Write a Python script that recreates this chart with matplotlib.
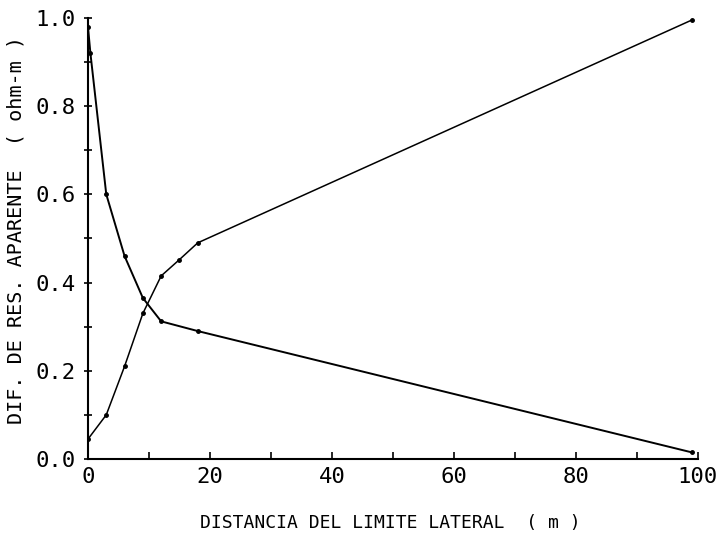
import matplotlib
matplotlib.use("Agg")
import matplotlib.pyplot as plt
from matplotlib.ticker import MultipleLocator

# resistivity difference vs distance to the lateral limit
x_down = [0, 0.4, 3, 6, 9, 12, 18, 99]
y_down = [0.98, 0.92, 0.60, 0.46, 0.365, 0.312, 0.29, 0.015]

x_up = [0, 3, 6, 9, 12, 15, 18, 99]
y_up = [0.045, 0.10, 0.21, 0.33, 0.415, 0.452, 0.49, 0.995]

xticks = [0, 20, 40, 60, 80, 100]
yticks = [0.0, 0.2, 0.4, 0.6, 0.8, 1.0]

plt.rcParams['font.family'] = ['DejaVu Sans Mono']

fig = plt.figure(figsize=(7.21, 5.40), dpi=100)
ax = fig.add_axes([0.122, 0.15, 0.846, 0.817])

ax.plot(x_down, y_down, color='black', lw=1.4, marker='o', ms=2.5)
ax.plot(x_up, y_up, color='black', lw=1.1, marker='o', ms=2.5)

ax.set_xlim(0, 100)
ax.set_ylim(0, 1.0)
ax.set_xticks(xticks)
ax.set_yticks(yticks)
ax.set_xticklabels([str(t) for t in xticks], fontsize=16)
ax.set_yticklabels(['%.1f' % t for t in yticks], fontsize=16)
ax.xaxis.set_minor_locator(MultipleLocator(10))
ax.yaxis.set_minor_locator(MultipleLocator(0.1))
ax.tick_params(axis='x', which='both', direction='in', length=5, width=1.2, pad=6)
ax.tick_params(axis='y', which='both', direction='inout', length=6, width=1.2, pad=6)

for s in ['top', 'right']:
    ax.spines[s].set_visible(False)
for s in ['left', 'bottom']:
    ax.spines[s].set_linewidth(1.5)

ax.set_xlabel('DISTANCIA DEL LIMITE LATERAL  ( m )', fontsize=13)
ax.xaxis.set_label_coords(0.495, -0.125)
ax.set_ylabel('DIF. DE RES. APARENTE  ( ohm-m )', fontsize=14.5)
ax.yaxis.set_label_coords(-0.102, 0.52)

fig.savefig('out.png', dpi=100)
